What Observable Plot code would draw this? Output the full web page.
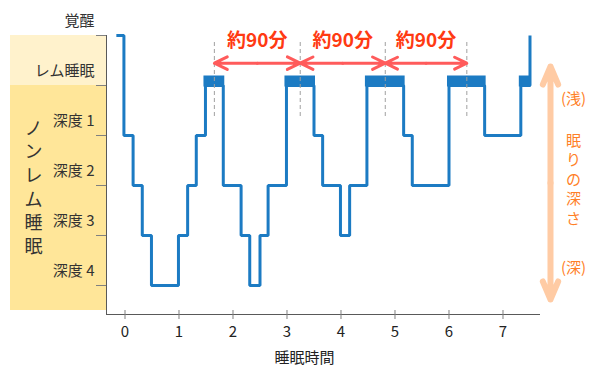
<!DOCTYPE html>
<html>
<head>
<meta charset="utf-8">
<script src="https://cdn.jsdelivr.net/npm/d3@7"></script>
<script src="https://cdn.jsdelivr.net/npm/@observablehq/plot@0.6"></script>
<style>
  html, body { margin: 0; padding: 0; background: #fff; }
  #chart svg { display: block; }
</style>
</head>
<body>
<div id="chart"></div>
<script>
// ---- data ----
const stageLabels = ["覚醒", "レム睡眠", "深度 1", "深度 2", "深度 3", "深度 4"];
const stageLevels = [0, 1, 2, 3, 4, 5];
const xTicks = [0, 1, 2, 3, 4, 5, 6, 7];
// hypnogram: time (hours) at which each stage begins, and stage level
const hypTimes  = [-0.16, -0.02, 0.15, 0.32, 0.49, 0.99, 1.16, 1.32, 1.49, 1.82, 2.15, 2.31, 2.50, 2.65, 2.99, 3.50, 3.66, 3.99, 4.16, 4.48, 5.16, 5.32, 6.00, 6.66, 7.33, 7.50];
const hypStages = [0,     2,     3,    4,    5,    4,    3,    2,    1,    3,    4,    5,    4,    3,    1,    2,    3,    4,    3,    1,    2,    3,    1,    2,    1,    0];
const cycleLabel = "約90分";
const nremLabel = "ノンレム睡眠";
const depthLabel = "眠りの深さ";
const shallowLabel = "(浅)";
const deepLabel = "(深)";
const xLabel = "睡眠時間";

// ---- derived tables ----
const hyp = hypTimes.map((t, i) => ({t, s: hypStages[i]}));
const rem = [];
for (let i = 0; i < hyp.length - 1; i++) {
  if (hyp[i].s === 1) rem.push({x1: hyp[i].t, x2: hyp[i + 1].t});
}
const remMids = rem.slice(0, 4).map(d => (d.x1 + d.x2) / 2);
const cycles = d3.pairs(remMids).map(([a, b]) => ({a, b, m: (a + b) / 2}));
const halfArrows = cycles.flatMap(c => [{x1: c.m, x2: c.a}, {x1: c.m, x2: c.b}]);

// ---- layout constants (pixels -> data) ----
const xMin = -0.3426, xMax = 7.676, pxH = 54;   // 54 px per hour
const pxL = 50;                                  // 50 px per stage level
const px2x = p => xMin + (p - 106) / pxH;
const py2y = p => (p - 35) / pxL;

// vertical (one char per line) text placed as separate glyphs
function vchars(str, cx, cy, step) {
  const chars = str.split("");
  const n = chars.length;
  return chars.map((c, i) => ({c, x: px2x(cx), y: py2y(cy + (i - (n - 1) / 2) * step)}));
}

const font = "'Noto Sans CJK JP', 'Noto Sans', sans-serif";
const blue = "#1C7BC3";

const chart = Plot.plot({
  width: 600,
  height: 380,
  marginLeft: 106,
  marginRight: 61,
  marginTop: 35,
  marginBottom: 66,
  x: {domain: [xMin, xMax], axis: null},
  y: {domain: [0, 5.58], reverse: true, axis: null},
  style: {fontFamily: font, background: "#fff", overflow: "visible"},
  marks: [
    // background bands
    Plot.rect([{y1: 0, y2: 1, c: "#FFF2CC"}, {y1: 1, y2: py2y(310), c: "#FFE699"}], {
      x1: px2x(10), x2: xMin, y1: "y1", y2: "y2", fill: "c", clip: false
    }),
    // axes lines
    Plot.frame({anchor: "left", stroke: "#595959"}),
    Plot.frame({anchor: "bottom", stroke: "#595959"}),
    Plot.axisY({ticks: stageLevels, tickSize: 10, tickFormat: () => "", stroke: "#808080"}),
    Plot.axisX({ticks: xTicks, tickSize: 5, tickFormat: () => "", stroke: "#808080"}),
    Plot.ruleX(xTicks, {x: d => d, y1: py2y(310), y2: 5.58, stroke: "#808080"}),
    // y labels
    Plot.text(stageLevels, {
      x: xMin, y: d => d, dx: -12, dy: -14, text: d => stageLabels[d],
      textAnchor: "end", fontSize: 15, fill: "#333"
    }),
    // x tick labels
    Plot.text(xTicks, {x: d => d, y: 5.58, dy: 18, text: d => String(d), fontSize: 15, fill: "#222"}),
    Plot.text([xLabel], {x: px2x(304), y: py2y(358), text: d => d, fontSize: 15, fill: "#222"}),
    // left vertical label
    Plot.text(vchars(nremLabel, 33, 187.5, 23.6), {x: "x", y: "y", text: "c", fontSize: 18, fill: "#333"}),
    // hypnogram
    Plot.line(hyp, {x: "t", y: "s", curve: "step-after", stroke: blue, strokeWidth: 3, strokeLinejoin: "miter", strokeLinecap: "butt"}),
    Plot.rect(rem, {x1: "x1", x2: "x2", y1: py2y(75.5), y2: py2y(86.5), fill: blue, insetLeft: -1.5, insetRight: -1.5}),
    // dashed guides
    Plot.ruleX(remMids, {x: d => d, y1: py2y(42), y2: py2y(118), stroke: "#A0A0A0", strokeDasharray: "4,3"}),
    // cycle arrows
    Plot.arrow(halfArrows, {
      x1: "x1", x2: "x2", y1: py2y(62.7), y2: py2y(62.7),
      stroke: "#FF5B5B", strokeWidth: 3, headLength: 7.2, headAngle: 52
    }),
    Plot.text(cycles, {
      x: "m", y: py2y(40.5), text: () => cycleLabel,
      fontSize: 19, fontWeight: "bold", fill: "#FF3A12"
    }),
    // depth arrow on right
    Plot.arrow([{y2: py2y(66)}, {y2: py2y(299)}], {
      x1: px2x(550), x2: px2x(550), y1: py2y(182.5), y2: "y2",
      stroke: "#FFCBA4", strokeWidth: 6, headLength: 4.9, headAngle: 46, clip: false
    }),
    Plot.text([shallowLabel], {x: px2x(573), y: py2y(98.3), text: d => d, fontSize: 15, fill: "#FF7F27"}),
    Plot.text(vchars(depthLabel, 573, 179.5, 19.5), {x: "x", y: "y", text: "c", fontSize: 15, fill: "#FF7F27"}),
    Plot.text([deepLabel], {x: px2x(573), y: py2y(268), text: d => d, fontSize: 15, fill: "#FF7F27"})
  ]
});
document.getElementById("chart").appendChild(chart);
</script>
</body>
</html>
